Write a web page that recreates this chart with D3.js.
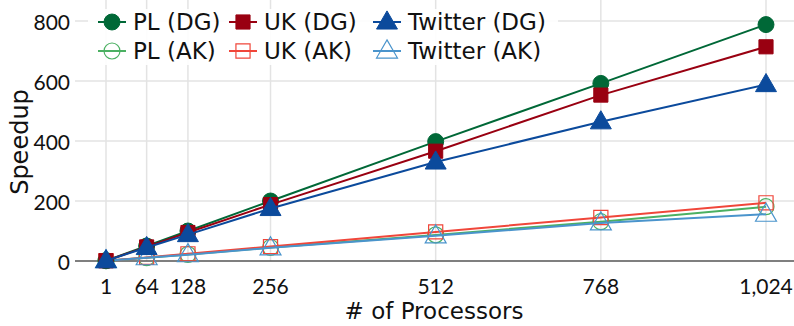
<!DOCTYPE html>
<html>
<head>
<meta charset="utf-8">
<script src="https://cdn.jsdelivr.net/npm/d3@7"></script>
<style>
  html, body { margin: 0; padding: 0; background: #fff; }
  svg text { fill: #111; }
  .tick { font-family: "Lato", "Noto Sans", sans-serif; }
  .label { font-family: "DejaVu Sans", sans-serif; }
</style>
</head>
<body>
<svg id="chart" width="794" height="326"></svg>
<script>
// Processor counts on the x axis
const processors = [1, 64, 128, 256, 512, 768, 1024];
const xTicks = [1, 64, 128, 256, 512, 768, 1024];
const yTicks = [0, 200, 400, 600, 800];

// Speedup per graph and method
const plDG = [1, 50, 100, 200, 398, 592, 788];
const ukDG = [1, 47, 95, 188, 366, 553, 714];
const twDG = [1, 45, 88, 175, 330, 464, 588];
const plAK = [1, 11, 22, 45, 87, 131, 181];
const ukAK = [1, 12, 24, 48, 97, 145, 194];
const twAK = [1, 11, 21, 44, 84, 127, 156];

const seriesNames = ["PL (DG)", "UK (DG)", "Twitter (DG)", "PL (AK)", "UK (AK)", "Twitter (AK)"];

const series = [
  { name: seriesNames[0], values: plDG, color: "#006837", shape: "circle", filled: true },
  { name: seriesNames[1], values: ukDG, color: "#990011", shape: "square", filled: true },
  { name: seriesNames[2], values: twDG, color: "#0b4a9c", shape: "triangle", filled: true },
  { name: seriesNames[3], values: plAK, color: "#4bb062", shape: "circle", filled: false },
  { name: seriesNames[4], values: ukAK, color: "#f0463a", shape: "square", filled: false },
  { name: seriesNames[5], values: twAK, color: "#4a94cc", shape: "triangle", filled: false }
];

const svg = d3.select("#chart");
const plotLeft = 75, plotRight = 794;

const x = d3.scaleLinear().domain([1, 1024]).range([106, 766]);
const y = d3.scaleLinear().domain([0, 800]).range([261, 21]);

// grid
const grid = svg.append("g");
grid.selectAll("line.h").data(yTicks.filter(d => d > 0)).join("line")
  .attr("x1", plotLeft).attr("x2", plotRight)
  .attr("y1", d => y(d)).attr("y2", d => y(d))
  .attr("stroke", "#e3e3e3").attr("stroke-width", 1.5);
grid.selectAll("line.v").data(xTicks).join("line")
  .attr("x1", d => x(d)).attr("x2", d => x(d))
  .attr("y1", 0).attr("y2", y(0))
  .attr("stroke", "#e3e3e3").attr("stroke-width", 1.5);

// baseline
svg.append("line")
  .attr("x1", plotLeft).attr("x2", plotRight)
  .attr("y1", y(0)).attr("y2", y(0))
  .attr("stroke", "#555").attr("stroke-width", 1.5);

// y tick labels
svg.append("g").selectAll("text").data(yTicks).join("text")
  .attr("class", "tick")
  .attr("x", 70).attr("y", d => y(d))
  .attr("text-anchor", "end").attr("dominant-baseline", "central")
  .attr("font-size", 21)
  .text(d => d3.format(",")(d));

// x tick labels
svg.append("g").selectAll("text").data(xTicks).join("text")
  .attr("class", "tick")
  .attr("x", d => x(d)).attr("y", 285)
  .attr("text-anchor", "middle").attr("dominant-baseline", "central")
  .attr("font-size", 21)
  .text(d => d3.format(",")(d));

// axis titles
svg.append("text")
  .attr("class", "label")
  .attr("x", 434).attr("y", 311)
  .attr("text-anchor", "middle").attr("dominant-baseline", "central")
  .attr("font-size", 23)
  .text("# of Processors");
svg.append("text")
  .attr("class", "label")
  .attr("transform", "translate(20,142) rotate(-90)")
  .attr("text-anchor", "middle").attr("dominant-baseline", "central")
  .attr("font-size", 24)
  .text("Speedup");

function symbolFor(shape) {
  const t = shape === "circle" ? d3.symbolCircle : shape === "square" ? d3.symbolSquare : d3.symbolTriangle;
  const size = shape === "triangle" ? 190 : 200;
  return d3.symbol().type(t).size(size)();
}

// lines and markers (AK drawn first, DG on top)
const order = [3, 4, 5, 0, 1, 2];
const line = d3.line().x((d, i) => x(processors[i])).y(d => y(d));
order.forEach(k => {
  const s = series[k];
  const g = svg.append("g");
  g.append("path")
    .attr("d", line(s.values))
    .attr("fill", "none").attr("stroke", s.color).attr("stroke-width", 2);
  g.selectAll("path.m").data(s.values).join("path")
    .attr("class", "m")
    .attr("transform", (d, i) => `translate(${x(processors[i])},${y(d) + (s.shape === "triangle" ? 1 : 0)})`)
    .attr("d", symbolFor(s.shape))
    .attr("fill", s.filled ? s.color : "none")
    .attr("stroke", s.color).attr("stroke-width", s.filled ? 1 : 1.2);
});

// legend
const legend = svg.append("g");
legend.append("rect")
  .attr("x", 88).attr("y", 9).attr("width", 470).attr("height", 56)
  .attr("fill", "#fff").attr("opacity", 0.9);
const colX = [112, 243, 387];
const rowY = [22, 51];
series.forEach((s, i) => {
  const cx = colX[i % 3], cy = rowY[Math.floor(i / 3)];
  const g = legend.append("g");
  g.append("line")
    .attr("x1", cx - 14).attr("x2", cx + 14).attr("y1", cy).attr("y2", cy)
    .attr("stroke", s.color).attr("stroke-width", 2);
  g.append("path")
    .attr("transform", `translate(${cx},${cy + (s.shape === "triangle" ? 1 : 0)})`)
    .attr("d", symbolFor(s.shape))
    .attr("fill", s.filled ? s.color : "none")
    .attr("stroke", s.color).attr("stroke-width", s.filled ? 1 : 1.2);
  g.append("text")
    .attr("class", "label")
    .attr("x", cx + 21).attr("y", cy)
    .attr("dominant-baseline", "central")
    .attr("font-size", 23)
    .text(s.name);
});
</script>
</body>
</html>
